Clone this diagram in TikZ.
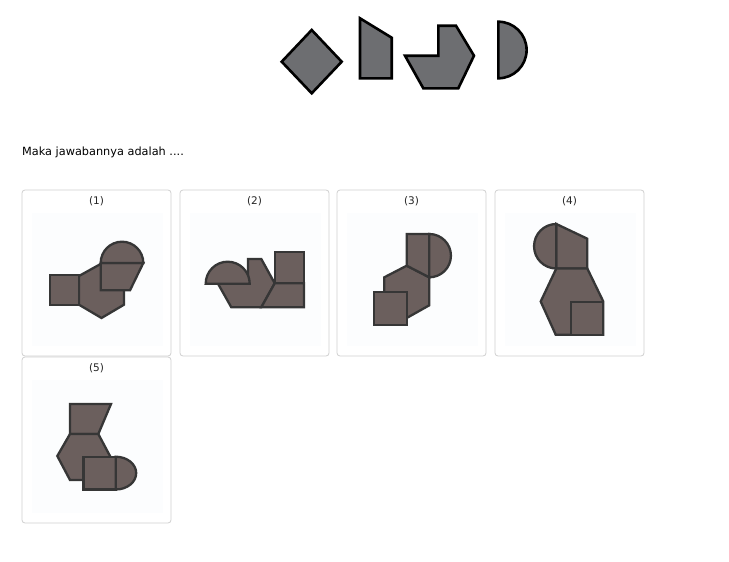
\documentclass[tikz,border=0pt]{standalone}
\usepackage{fontspec}
\setmainfont{DejaVu Sans}
\definecolor{topfill}{HTML}{6D6E71}
\definecolor{optfill}{HTML}{6B5F5D}
\definecolor{optline}{HTML}{363636}
\definecolor{boxline}{HTML}{D0D0D0}
\definecolor{innerbg}{HTML}{FCFDFE}
\tikzset{
  topshape/.style={fill=topfill, draw=black, line width=2.6pt, line join=miter},
  optshape/.style={fill=optfill, draw=optline, line width=2.3pt, line join=miter},
  optbox/.style={draw=boxline, line width=0.8pt, rounded corners=3pt, fill=white},
  inner/.style={fill=innerbg, draw=none},
  optlabel/.style={font=\fontsize{10.5}{12}\selectfont, text=black!85, inner sep=0pt},
}
\begin{document}
\begin{tikzpicture}[x=1pt,y=-1pt]
\useasboundingbox (0,0) rectangle (729,562);
\fill[white] (0,0) rectangle (729,562);

% top shapes
\draw[topshape] (281.7,61.7) -- (311.7,30) -- (341.7,61.7) -- (311.7,93.3) -- cycle;
\draw[topshape] (360,18.3) -- (391.7,37.7) -- (391.7,78.3) -- (360,78.3) -- cycle;
\draw[topshape] (405,55.7) -- (438.3,55.7) -- (438.3,25.7) -- (456,25.7) -- (474,55.7) -- (458.3,88.3) -- (423.3,88.3) -- cycle;
\draw[topshape] (498.3,21.7) arc[start angle=-90, end angle=90, radius=28.3] -- cycle;

\node[anchor=west, inner sep=0pt, font=\fontsize{11.3}{13}\selectfont] (q) at (22,152) {Maka jawabannya adalah ....};

% option boxes
\foreach \n/\bx/\by in {b1/22/190, b2/180/190, b3/337/190, b4/495/190, b5/22/357} {
  \draw[optbox] (\bx,\by) rectangle ++(149,166);
  \fill[inner] (\bx+9.7,\by+23) rectangle ++(131.6,133.3);
}
\node[optlabel] (l1) at (96.5,201.5) {(1)};
\node[optlabel] (l2) at (254.5,201.5) {(2)};
\node[optlabel] (l3) at (411.5,201.5) {(3)};
\node[optlabel] (l4) at (569.5,201.5) {(4)};
\node[optlabel] (l5) at (96.5,368.5) {(5)};

% option 1
\draw[optshape] (101.5,263.5) -- (124,276) -- (124,304.7) -- (101.5,318) -- (79,304.7) -- (79,276) -- cycle;
\draw[optshape] (50,275.3) rectangle (79,304.7);
\draw[optshape] (100.7,263) -- (143.3,263) -- (130,290.3) -- (100.7,290.3) -- cycle;
\draw[optshape] (100.7,263) arc[start angle=180, end angle=360, radius=21.3] -- cycle;

% option 2
\draw[optshape] (218,283.7) -- (248,283.7) -- (248,259) -- (261.3,259) -- (274.7,283.3) -- (261.3,307.3) -- (231.3,307.3) -- cycle;
\draw[optshape] (205.7,283.7) arc[start angle=180, end angle=360, radius=22] -- cycle;
\draw[optshape] (274.7,252.3) rectangle (304,283.3);
\draw[optshape] (274.7,283.3) -- (304,283.3) -- (304,307.3) -- (261.3,307.3) -- cycle;

% option 3
\draw[optshape] (406.7,265.7) -- (429.3,277.3) -- (429.3,305.3) -- (406.7,318) -- (384.3,305.3) -- (384.3,277.3) -- cycle;
\draw[optshape] (406.7,234) -- (429.3,234) -- (429.3,277.3) -- (406.7,265.7) -- cycle;
\draw[optshape] (429.3,234) arc[start angle=-90, end angle=90, radius=21.65] -- cycle;
\draw[optshape] (374.3,292) rectangle (406.7,325.3);

% option 4
\draw[optshape] (556.3,224) -- (587.3,238.7) -- (587.3,268.5) -- (556.3,268.5) -- cycle;
\draw[optshape] (556.3,224) arc[start angle=-90, end angle=-270, radius=22.25] -- cycle;
\draw[optshape] (556.3,268.5) -- (587.3,268.5) -- (603.3,301.5) -- (603.3,334.7) -- (555.7,334.7) -- (540.7,301.5) -- cycle;
\draw[optshape] (571.3,302) rectangle (603.3,335);

% option 5
\draw[optshape] (70,404) -- (111,404) -- (98.3,434) -- (70,434) -- cycle;
\draw[optshape] (70,434) -- (98.3,434) -- (110,456) -- (98.3,480) -- (70,480) -- (57.3,456) -- cycle;
\draw[optshape] (83.5,456.7) rectangle (115.7,489.5);
\draw[optshape] (115.7,456.7) arc[start angle=-90, end angle=90, x radius=20.5, y radius=16.4] -- cycle;
\end{tikzpicture}
\end{document}
